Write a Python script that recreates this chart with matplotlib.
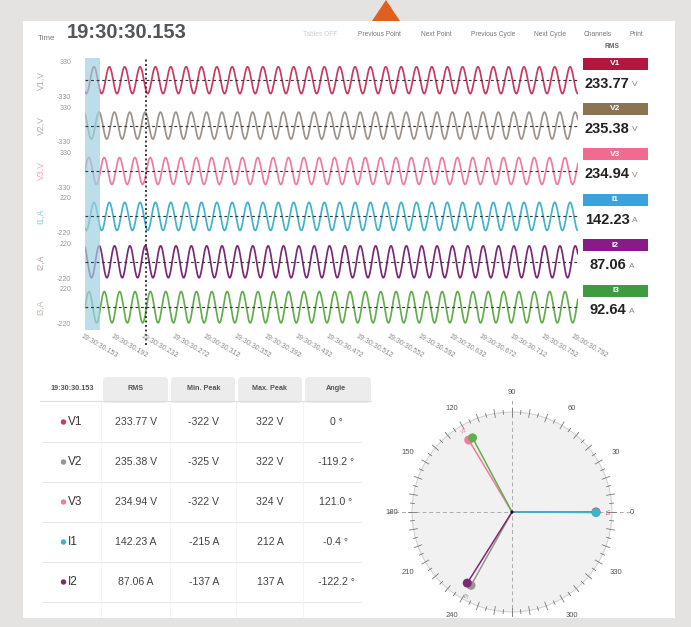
import numpy as np
import matplotlib.pyplot as plt
from matplotlib.patches import Rectangle, Polygon, Circle, FancyBboxPatch

plt.rcParams['font.family'] = ['Liberation Sans', 'DejaVu Sans']

# ---------------- data ----------------
channels = ['V1', 'V2', 'V3', 'I1', 'I2', 'I3']
units = ['V', 'V', 'V', 'A', 'A', 'A']
rms_vals = [233.77, 235.38, 234.94, 142.23, 87.06, 92.64]
min_peaks = [-322, -325, -322, -215, -137, -131]
max_peaks = [322, 322, 324, 212, 137, 131]
angles = [0, -119.2, 121.0, -0.4, -122.2, 118.0]
axis_ticks = [330, 330, 330, 220, 220, 220]
axis_spans = [545, 545, 545, 345, 195, 190]   # half-height of each row's y range

wave_colors = ['#c93a5e', '#9d9389', '#f07ba1', '#3fb4c9', '#7b2a73', '#62ad4c']
badge_colors = ['#b3173d', '#8c7352', '#f06b8f', '#3aa2dc', '#8a1a8a', '#3f9b3f']
label_colors = ['#b3a8ac', '#b3aca7', '#f2a2bb', '#86cad8', '#b3a6b0', '#b0bea9']

time_labels = ['19:30:30.153', '19:30:30.192', '19:30:30.232', '19:30:30.272',
               '19:30:30.312', '19:30:30.352', '19:30:30.392', '19:30:30.432',
               '19:30:30.472', '19:30:30.512', '19:30:30.552', '19:30:30.592',
               '19:30:30.632', '19:30:30.672', '19:30:30.712', '19:30:30.752',
               '19:30:30.792']
time_ticks = [0.153, 0.192, 0.232, 0.272, 0.312, 0.352, 0.392, 0.432, 0.472,
              0.512, 0.552, 0.592, 0.632, 0.672, 0.712, 0.752, 0.792]
t_start, t_end = 0.153, 0.795
freq = 50.0
t_ref = 0.1647          # first V1 peak
cursor_t = 0.233
cycle_end = 0.173

menu_items = ['Tables OFF', 'Previous Point', 'Next Point', 'Previous Cycle',
              'Next Cycle', 'Channels', 'Print']
menu_x = [320, 379, 436, 493, 550, 598, 636]

# ---------------- figure ----------------
W, H = 691, 627
fig = plt.figure(figsize=(W / 100, H / 100), dpi=100)
fig.patch.set_facecolor('#e4e3e1')


def px_axes(x0, y0, x1, y1, **kw):
    return fig.add_axes([x0 / W, 1 - y1 / H, (x1 - x0) / W, (y1 - y0) / H], **kw)


bg = px_axes(0, 0, W, H)
bg.set_xlim(0, W)
bg.set_ylim(H, 0)
bg.axis('off')
bg.add_patch(Rectangle((23, 21), 652, 597, fc='white', ec='none'))
bg.add_patch(Polygon([[372, 21], [400, 21], [386, 0]], closed=True, fc='#e2601e', ec='none'))

# header
bg.text(38, 38, 'Time', fontsize=5.8, color='#777777', va='center')
bg.text(67, 33, '19:30:30.153', fontsize=14.5, color='#555555', va='center', fontweight='bold')
for name, mx in zip(menu_items, menu_x):
    bg.text(mx, 35, name, fontsize=4.8, color='#cccccc' if name == 'Tables OFF' else '#777777',
            ha='center', va='center')

# ---------------- waveform rows ----------------
t = np.arange(t_start, t_end, 0.0002)
row_top = 57.5
row_h = 45.4
x_left, x_right = 85, 578
for i, ch in enumerate(channels):
    y0 = row_top + i * row_h
    ax = px_axes(x_left, y0, x_right, y0 + row_h)
    ax.patch.set_alpha(0)
    amp = (max_peaks[i] - min_peaks[i]) / 2
    w = amp * np.cos(2 * np.pi * freq * (t - t_ref) + np.radians(angles[i]))
    ax.plot(t, w, color=wave_colors[i], lw=1.25, zorder=2)
    ax.axvspan(t_start, cycle_end, color='#9fd0e2', alpha=0.7, lw=0, zorder=3)
    ax.axhline(0, color='#333333', lw=0.8, ls=(0, (2.5, 2.5)), zorder=4)
    lim = axis_spans[i]
    ax.set_ylim(-lim, lim)
    ax.set_xlim(t_start, t_end)
    for s in ax.spines.values():
        s.set_visible(False)
    tk = min(axis_ticks[i], lim * 0.62)
    ax.set_yticks([-tk, tk])
    ax.set_yticklabels([str(-axis_ticks[i]), str(axis_ticks[i])])
    ax.tick_params(axis='y', length=0, labelsize=5, labelcolor='#999999', pad=10)
    lbls = ax.get_yticklabels()
    lbls[0].set_va('top')
    lbls[1].set_va('bottom')
    ax.set_xticks([])
    ax.set_ylabel(f'{ch},{units[i]}', fontsize=6.3, color=label_colors[i])
    ax.yaxis.set_label_coords(-0.08, 0.5)

    # rms badge and value
    cy = y0 + 6
    bg.add_patch(Rectangle((583, cy - 6), 65, 12, fc=badge_colors[i], ec='none'))
    bg.text(615.5, cy, ch, fontsize=6, color='white', fontweight='bold', ha='center', va='center')
    big = rms_vals[i] >= 100
    bg.text(585 if big else 590, cy + 20, f'{rms_vals[i]:.2f}', fontsize=10.5, fontweight='bold',
            color='#222222', va='center')
    bg.text(632 if big else 629, cy + 21, units[i], fontsize=6,
            color='#888888', va='center')

bg.text(612, 47, 'RMS', fontsize=4.8, color='#666666', fontweight='bold', ha='center', va='center')

# cursor line and time axis labels
axc = px_axes(x_left, row_top, x_right, 345)
axc.set_xlim(t_start, t_end)
axc.set_ylim(345, row_top)
axc.axis('off')
axc.axvline(cursor_t, color='#222222', lw=1.2, ls=(0, (1.2, 1.5)))
for tv, tl in zip(time_ticks, time_labels):
    axc.text(tv - 0.003, 333, tl, fontsize=5, color='#888888', rotation=-30,
             rotation_mode='anchor', ha='left', va='top', clip_on=False)

# ---------------- table ----------------
col_x = [72, 136, 204, 270, 336]
headers = ['19:30:30.153', 'RMS', 'Min. Peak', 'Max. Peak', 'Angle']
tabs = [(103, 168), (171, 235), (238, 302), (305, 371)]
for (a, b) in tabs:
    bg.add_patch(FancyBboxPatch((a, 377), b - a, 26, boxstyle='round,pad=0,rounding_size=4',
                                fc='#ececec', ec='none'))
bg.plot([40, 371], [401, 401], color='#dddddd', lw=0.8)
for cx, hd in zip(col_x, headers):
    bg.text(cx, 388, hd, fontsize=5.2, color='#555555', ha='center', va='center', fontweight='bold')

row_y = [422, 462, 502, 542, 582]
for j, ry in enumerate(row_y):
    bg.plot([43, 361], [ry + 20, ry + 20], color='#e8e8e8', lw=0.8)
    bg.add_patch(Circle((63.5, ry), 2.7, fc=wave_colors[j], ec='none'))
    bg.text(68, ry, channels[j], fontsize=8.5, color='#333333', va='center')
    u = units[j]
    bg.text(col_x[1], ry, f'{rms_vals[j]:.2f} {u}', fontsize=7.6, color='#444444',
            ha='center', va='center')
    bg.text(col_x[2], ry, f'{min_peaks[j]} {u}', fontsize=7.6, color='#444444',
            ha='center', va='center')
    bg.text(col_x[3], ry, f'{max_peaks[j]} {u}', fontsize=7.6, color='#444444',
            ha='center', va='center')
    ang = '0' if angles[j] == 0 else f'{angles[j]:.1f}'
    bg.text(col_x[4], ry, f'{ang} °', fontsize=7.6, color='#444444', ha='center', va='center')
for vx in [101, 170, 236, 303]:
    bg.plot([vx, vx], [402, 617], color='#f4f4f4', lw=0.8)

# ---------------- phasor diagram ----------------
cx0, cy0 = 512, 512
R = 100
pax = px_axes(380, 376, 672, 617)
pax.set_xlim(380 - cx0, 672 - cx0)
pax.set_ylim(cy0 - 617, cy0 - 376)
pax.set_aspect('equal')
pax.axis('off')
pax.add_patch(Circle((0, 0), R, fc='#f1f1f1', ec='#c8c8c8', lw=0.6, zorder=0))
pax.plot([-124, 118], [0, 0], color='#aaaaaa', lw=0.7, ls=(0, (4, 3)), zorder=1)
pax.plot([0, 0], [-R - 10, 112], color='#aaaaaa', lw=0.7, ls=(0, (4, 3)), zorder=1)
for deg in range(0, 360, 5):
    r1, r2 = (R - 4, R + 4) if deg % 10 == 0 else (R - 2, R + 2)
    a = np.radians(deg)
    pax.plot([r1 * np.cos(a), r2 * np.cos(a)], [r1 * np.sin(a), r2 * np.sin(a)],
             color='#777777', lw=0.6, zorder=1)
for deg in range(0, 360, 30):
    if deg == 270:
        continue
    a = np.radians(deg)
    pax.text(120 * np.cos(a), 120 * np.sin(a), str(deg), fontsize=5.5, color='#555555',
             ha='center', va='center')
L = 84
order = [1, 4, 2, 5, 0, 3]
for j in order:
    a = np.radians(angles[j])
    pax.plot([0, L * np.cos(a)], [0, L * np.sin(a)], color=wave_colors[j], lw=1.1, zorder=3)
    pax.add_patch(Circle((L * np.cos(a), L * np.sin(a)), 4.5, fc=wave_colors[j], ec='none', zorder=4))
for j in [0, 1, 2]:
    a = np.radians(angles[j])
    pax.text((L + 10) * np.cos(a), (L + 10) * np.sin(a), channels[j], fontsize=3.8,
             color=wave_colors[j], rotation=angles[j] - 90, ha='center', va='center', zorder=4)
pax.add_patch(Circle((0, 0), 1.6, fc='#111111', ec='none', zorder=5))

fig.savefig('out.png', dpi=100, facecolor=fig.get_facecolor())
